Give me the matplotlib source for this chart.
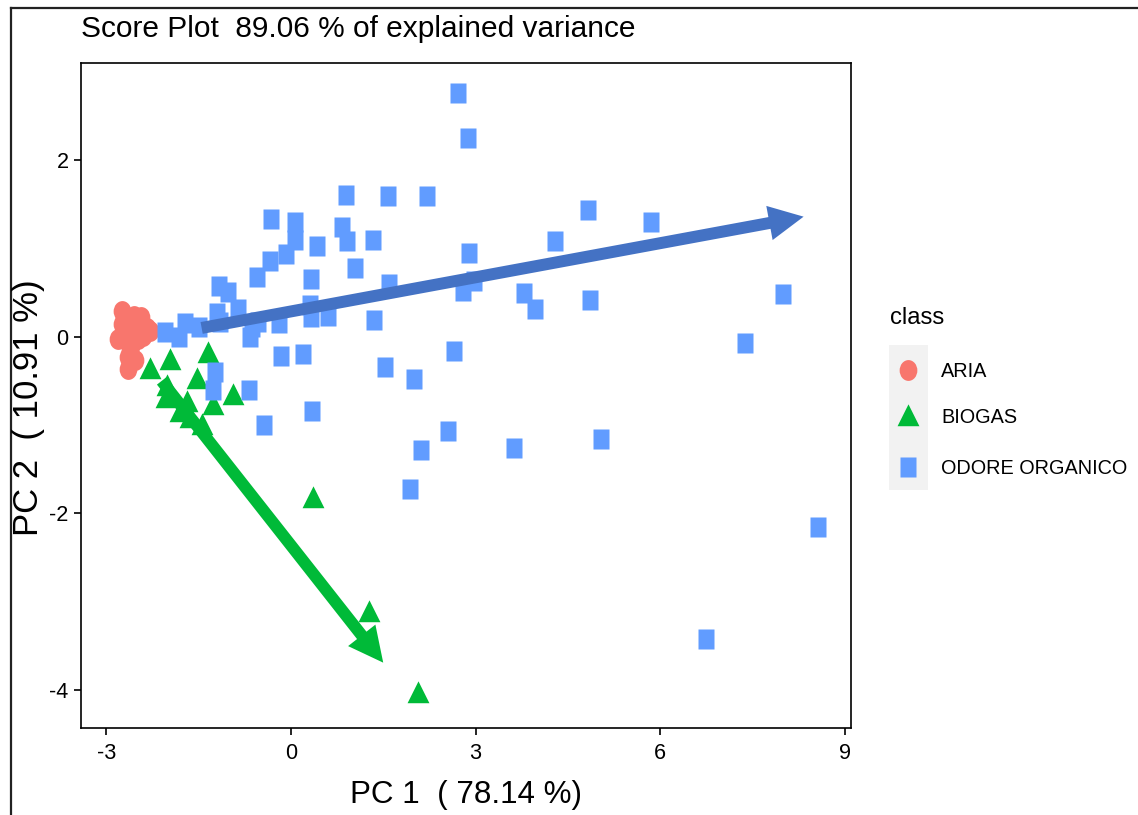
import numpy as np
import matplotlib
matplotlib.use("Agg")
import matplotlib.pyplot as plt
from matplotlib import font_manager as fm
from matplotlib.path import Path
from matplotlib.patches import FancyArrowPatch, Rectangle, ArrowStyle
from matplotlib.lines import Line2D

# ---------------- data ----------------
classes = ["ARIA", "BIOGAS", "ODORE ORGANICO"]
class_colors = ["#F8766D", "#00BA38", "#619CFF"]

aria_pc1 = [-2.75, -2.55, -2.44, -2.33, -2.29, -2.81, -2.68, -2.59, -2.65, -2.54,
            -2.65, -2.46, -2.52, -2.67, -2.62, -2.49, -2.74, -2.40]
aria_pc2 = [0.29, 0.24, 0.22, 0.10, 0.06, -0.03, 0.01, -0.10, -0.23, -0.26,
            -0.37, 0.08, 0.17, 0.12, -0.15, -0.03, 0.14, 0.01]

biogas_pc1 = [-2.29, -1.97, -1.35, -2.02, -1.53, -2.03, -1.69, -1.27, -0.94, -1.45,
              -1.80, -1.64, 0.36, 1.27, 2.07]
biogas_pc2 = [-0.36, -0.26, -0.18, -0.56, -0.48, -0.69, -0.74, -0.77, -0.66, -1.00,
              -0.85, -0.92, -1.82, -3.12, -4.03]

odore_pc1 = [2.72, 2.88, 0.89, 1.58, 2.21, -0.33, 0.07, 0.83, 0.07, 0.42,
             1.33, 0.91, 4.83, 5.85, 4.29, 2.89, 1.04, -0.08, -0.34, -0.55,
             0.33, 1.59, 2.98, 2.80, 3.79, 4.86, 3.97, 8.00, -1.17, -1.02,
             -0.86, 0.31, -1.20, -1.72, -2.05, -1.82, -1.50, -1.15, -0.54, -0.67,
             -0.20, 0.33, 0.60, 1.35, -0.63, -0.16, 0.20, -1.24, -1.27, -0.68,
             -0.44, 0.34, 2.65, 1.53, 2.00, 7.37, 2.55, 3.63, 2.11, 5.04,
             1.93, 8.57, 6.75]
odore_pc2 = [2.76, 2.25, 1.61, 1.59, 1.59, 1.33, 1.30, 1.24, 1.10, 1.03,
             1.10, 1.09, 1.44, 1.30, 1.08, 0.95, 0.78, 0.94, 0.86, 0.68,
             0.65, 0.60, 0.63, 0.52, 0.50, 0.42, 0.31, 0.48, 0.58, 0.51,
             0.32, 0.36, 0.27, 0.16, 0.05, 0.00, 0.11, 0.17, 0.17, 0.00,
             0.16, 0.22, 0.23, 0.19, 0.11, -0.22, -0.19, -0.40, -0.60, -0.60,
             -1.00, -0.84, -0.16, -0.34, -0.48, -0.07, -1.07, -1.26, -1.28, -1.16,
             -1.72, -2.15, -3.42]

# arrows (start pc1, start pc2, end pc1, end pc2)
odore_arrow = [-1.45, 0.10, 8.33, 1.36]
biogas_arrow = [-2.10, -0.50, 1.50, -3.69]
arrow_colors = ["#4472C4", "#00BA38"]

x_ticks = [-3, 0, 3, 6, 9]
y_ticks = [-4, -2, 0, 2]
title = "Score Plot  89.06 % of explained variance"
xlabel = "PC 1  ( 78.14 %)"
ylabel = "PC 2  ( 10.91 %)"
legend_title = "class"

# ---------------- fonts ----------------
def have(f):
    try:
        fm.findfont(fm.FontProperties(family=f), fallback_to_default=False)
        return True
    except Exception:
        return False

if have("Liberation Sans Narrow"):
    hfont = "Liberation Sans Narrow"; k = 1.0
else:
    hfont = "Liberation Sans"; k = 0.82
vfont = "Liberation Sans"

# ---------------- markers (slightly tall shapes) ----------------
sq = Path([(-0.8, -1), (0.8, -1), (0.8, 1), (-0.8, 1), (-0.8, -1)],
          [Path.MOVETO, Path.LINETO, Path.LINETO, Path.LINETO, Path.CLOSEPOLY])
tri = Path([(-0.9, -0.8), (0.9, -0.8), (0, 1.0), (-0.9, -0.8)],
           [Path.MOVETO, Path.LINETO, Path.LINETO, Path.CLOSEPOLY])
uc = Path.unit_circle()
circ = Path(uc.vertices * np.array([0.85, 1.0]), uc.codes)
markers = [circ, tri, sq]
msizes = [15.0, 17.5, 14.4]

W, H = 1138, 815
fig = plt.figure(figsize=(W / 100, H / 100), dpi=100)
fig.patch.set_facecolor("white")

L, R, T, B = 81, 851, 63, 728
ax = fig.add_axes([L / W, 1 - B / H, (R - L) / W, (B - T) / H])
ax.set_xlim(-3.41, 9.10)
ax.set_ylim(-4.43, 3.10)

data = [(aria_pc1, aria_pc2), (biogas_pc1, biogas_pc2), (odore_pc1, odore_pc2)]
for (xs, ys), m, c, s in zip(data, markers, class_colors, msizes):
    ax.plot(xs, ys, linestyle="none", marker=m, markersize=s,
            markerfacecolor=c, markeredgecolor="none", zorder=2)

style = ArrowStyle("simple", head_length=25, head_width=25, tail_width=8.6)
for (x0, y0, x1, y1), c in zip([odore_arrow, biogas_arrow], arrow_colors):
    ax.add_patch(FancyArrowPatch((x0, y0), (x1, y1), arrowstyle=style,
                                 mutation_scale=1, color=c, shrinkA=0, shrinkB=0,
                                 lw=0, zorder=3))

ax.set_xticks(x_ticks)
ax.set_yticks(y_ticks)
ax.set_xticklabels([str(v) for v in x_ticks], fontfamily=hfont, fontsize=19 * k)
ax.set_yticklabels([str(v) for v in y_ticks], fontfamily=hfont, fontsize=19 * k)
ax.tick_params(direction="out", length=5, width=1.2, color="black")
ax.tick_params(axis="x", pad=6)
ax.tick_params(axis="y", pad=4)
for sp in ax.spines.values():
    sp.set_linewidth(1.2)
    sp.set_color("black")

fig.text(L / W, 1 - 29 / H, title, fontfamily=hfont, fontsize=26.2 * k,
         ha="left", va="center")
fig.text((L + R) / 2 / W, 1 - 795 / H, xlabel, fontfamily=hfont, fontsize=27.6 * k,
         ha="center", va="center")
fig.text(29 / W, 1 - 408 / H, ylabel, fontfamily=vfont, fontsize=25, rotation=90,
         ha="center", va="center")

# legend
fig.text(890 / W, 1 - 318 / H, legend_title, fontfamily=hfont, fontsize=21 * k,
         ha="left", va="center")
fig.add_artist(Rectangle((889 / W, 1 - 490 / H), 39 / W, 145 / H,
                         transform=fig.transFigure, facecolor="#F2F2F2",
                         edgecolor="none"))
leg_y = [370, 416, 467]
for name, m, c, s, yy in zip(classes, markers, class_colors, msizes, leg_y):
    fig.add_artist(Line2D([908 / W], [1 - yy / H], transform=fig.transFigure,
                          marker=m, markersize=s, markerfacecolor=c,
                          markeredgecolor="none", linestyle="none"))
    fig.text(941 / W, 1 - (yy + 1) / H, name, fontfamily=hfont, fontsize=17.5 * k,
             ha="left", va="center")

# outer frame (partially cropped)
fig.add_artist(Line2D([11 / W, 1.01], [1 - 8 / H, 1 - 8 / H], transform=fig.transFigure,
                      color="#222222", lw=1.6))
fig.add_artist(Line2D([11 / W, 11 / W], [1 - 8 / H, -0.01], transform=fig.transFigure,
                      color="#222222", lw=1.6))

fig.savefig("out.png", dpi=100)
